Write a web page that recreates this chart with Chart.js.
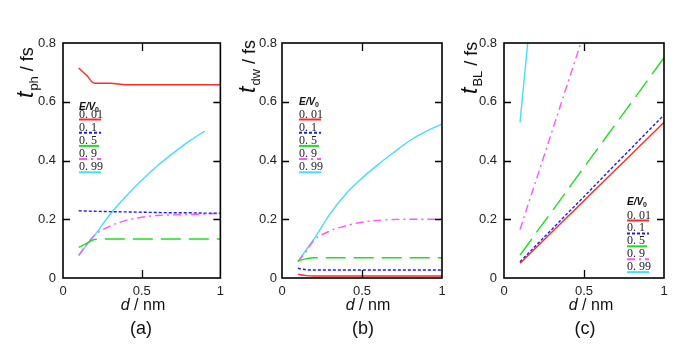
<!DOCTYPE html>
<html><head><meta charset="utf-8">
<script src="https://cdn.jsdelivr.net/npm/chart.js@4"></script>
<style>
html,body{margin:0;padding:0;background:#fff;}
#wrap{position:relative;width:692px;height:346px;overflow:hidden;}
canvas{position:absolute;top:0;}
</style></head><body>
<div id="wrap">
<canvas id="ca" width="230" height="346" style="left:0px"></canvas>
<canvas id="cb" width="230" height="346" style="left:230px"></canvas>
<canvas id="cc" width="232" height="346" style="left:460px"></canvas>
</div>
<script>
// ---- data ----
const dNm = [0.1, 0.15, 0.2, 0.3, 0.4, 0.5, 0.6, 0.7, 0.8, 0.9, 1.0];
const ratioLabels = ['0. 01', '0. 1', '0. 5', '0. 9', '0. 99'];
const yTicks = [0, 0.2, 0.4, 0.6, 0.8];
const xTicks = [0, 0.5, 1];

// (a) t_ph
const tphE001 = [0.715, 0.69, 0.663, 0.663, 0.658, 0.658, 0.658, 0.658, 0.658, 0.658, 0.658];
const tphE01  = [0.229, 0.228, 0.227, 0.226, 0.225, 0.224, 0.223, 0.222, 0.222, 0.221, 0.221];
const tphE05  = [0.104, 0.118, 0.131, 0.133, 0.133, 0.133, 0.133, 0.133, 0.133, 0.133, 0.133];
const tphE09  = [0.077, 0.115, 0.145, 0.177, 0.196, 0.207, 0.213, 0.215, 0.216, 0.218, 0.22];
const tphE099 = [0.076, 0.112, 0.145, 0.217, 0.278, 0.333, 0.382, 0.425, 0.465, 0.5, null];

// (b) t_dw
const tdwE001 = [0.013, 0.008, 0.007, 0.007, 0.007, 0.007, 0.007, 0.007, 0.007, 0.007, 0.007];
const tdwE01  = [0.033, 0.028, 0.027, 0.027, 0.027, 0.027, 0.027, 0.027, 0.027, 0.027, 0.027];
const tdwE05  = [0.059, 0.065, 0.069, 0.069, 0.069, 0.069, 0.069, 0.069, 0.069, 0.069, 0.069];
const tdwE09  = [0.056, 0.09, 0.128, 0.16, 0.178, 0.19, 0.196, 0.199, 0.2, 0.2, 0.2];
const tdwE099 = [0.056, 0.095, 0.133, 0.218, 0.287, 0.34, 0.386, 0.428, 0.468, 0.499, 0.524];

// (c) t_BL
const tblE001 = [0.05, 0.077, 0.103, 0.157, 0.21, 0.263, 0.317, 0.37, 0.423, 0.477, 0.53];
const tblE01  = [0.055, 0.083, 0.111, 0.166, 0.222, 0.277, 0.333, 0.389, 0.444, 0.5, 0.555];
const tblE05  = [0.078, 0.115, 0.153, 0.227, 0.302, 0.377, 0.451, 0.526, 0.6, 0.675, 0.75];
const tblE09  = [0.165, 0.249, 0.332, 0.499, 0.666, 0.833, 1.0, null, null, null, null];
const tblE099 = [0.53, 0.81, 1.08, null, null, null, null, null, null, null, null];

// ---- styles ----
const seriesStyle = [
  {color: '#ff2a2a', dash: []},
  {color: '#1a1aff', dash: [3, 2]},
  {color: '#22dd22', dash: [20, 8]},
  {color: '#ff55ff', dash: [8, 4, 2, 4]},
  {color: '#44ddff', dash: []}
];

function pts(arr) {
  const out = [];
  dNm.forEach((x, i) => { if (arr[i] !== null) out.push({x: x, y: arr[i]}); });
  return out;
}

function overlay(opt) {
  return {
    id: 'overlay',
    afterDraw(chart) {
      const ctx = chart.ctx;
      const a = chart.chartArea;
      const xs = chart.scales.x, ys = chart.scales.y;
      ctx.save();
      // frame
      ctx.strokeStyle = '#000';
      ctx.lineWidth = 1.6;
      ctx.setLineDash([]);
      ctx.strokeRect(a.left, a.top, a.right - a.left, a.bottom - a.top);
      // inward ticks
      ctx.lineWidth = 1.3;
      ctx.beginPath();
      [0.2, 0.4, 0.6].forEach(v => {
        const py = Math.round(ys.getPixelForValue(v)) + 0.5;
        ctx.moveTo(a.left, py); ctx.lineTo(a.left + 7, py);
        ctx.moveTo(a.right, py); ctx.lineTo(a.right - 7, py);
      });
      const px = Math.round(xs.getPixelForValue(0.5)) + 0.5;
      ctx.moveTo(px, a.top); ctx.lineTo(px, a.top + 8);
      ctx.moveTo(px, a.bottom); ctx.lineTo(px, a.bottom - 8);
      ctx.stroke();

      ctx.fillStyle = '#111';
      // y title (rotated)
      ctx.save();
      ctx.translate(opt.yt[0], opt.yt[1]);
      ctx.rotate(-Math.PI / 2);
      ctx.textBaseline = 'alphabetic';
      ctx.textAlign = 'left';
      let cx = 0;
      ctx.font = 'italic 23px "Liberation Sans", Arial, sans-serif';
      ctx.fillText('t', cx, 0); cx += ctx.measureText('t').width + 1;
      ctx.font = '13px "Liberation Sans", Arial, sans-serif';
      ctx.fillText(opt.sub, cx, 5); cx += ctx.measureText(opt.sub).width;
      ctx.font = '18px "Liberation Sans", Arial, sans-serif';
      ctx.fillText(' / fs', cx, 0);
      ctx.restore();

      // x title
      ctx.textBaseline = 'alphabetic';
      ctx.font = 'italic 16px "Liberation Sans", Arial, sans-serif';
      const w1 = ctx.measureText('d').width;
      ctx.font = '16px "Liberation Sans", Arial, sans-serif';
      const w2 = ctx.measureText(' / nm').width;
      let sx = opt.xt[0] - (w1 + w2) / 2;
      ctx.textAlign = 'left';
      ctx.font = 'italic 16px "Liberation Sans", Arial, sans-serif';
      ctx.fillText('d', sx, opt.xt[1]);
      ctx.font = '16px "Liberation Sans", Arial, sans-serif';
      ctx.fillText(' / nm', sx + w1, opt.xt[1]);

      // panel label
      ctx.textAlign = 'center';
      ctx.font = '18px "Liberation Sans", Arial, sans-serif';
      ctx.fillText(opt.panel, opt.pl[0], opt.pl[1]);

      // legend
      const lx = opt.lg[0];
      ctx.textAlign = 'left';
      ctx.font = 'italic bold 10px "Liberation Sans", Arial, sans-serif';
      ctx.fillText('E/V', lx, opt.lg[1]);
      const wev = ctx.measureText('E/V').width;
      ctx.font = 'bold 7px "Liberation Sans", Arial, sans-serif';
      ctx.fillText('0', lx + wev, opt.lg[1] + 2);
      ratioLabels.forEach((lab, i) => {
        const ly = opt.lg[2] + i * opt.lg[3];
        ctx.fillStyle = '#222';
        ctx.font = '12px "Liberation Serif", "Times New Roman", serif';
        ctx.fillText(lab, lx, ly - 1.5);
        ctx.strokeStyle = seriesStyle[i].color;
        ctx.lineWidth = 2;
        ctx.setLineDash(seriesStyle[i].dash);
        ctx.beginPath();
        ctx.moveTo(lx, ly + 0.5); ctx.lineTo(lx + 22, ly + 0.5);
        ctx.stroke();
      });
      ctx.restore();
    }
  };
}

function makeChart(id, arrays, rightPad, yAxisW, yPad, opt) {
  const datasets = arrays.map((arr, i) => ({
    label: ratioLabels[i],
    data: pts(arr),
    borderColor: seriesStyle[i].color,
    borderDash: seriesStyle[i].dash,
    borderWidth: 1.4,
    pointRadius: 0,
    fill: false,
    cubicInterpolationMode: 'monotone'
  }));
  const tickFont = {family: '"Liberation Sans", Arial, sans-serif', size: 13};
  return new Chart(document.getElementById(id), {
    type: 'line',
    data: {datasets},
    options: {
      responsive: false,
      animation: false,
      events: [],
      layout: {padding: {left: 0, right: rightPad, top: 43, bottom: 38}},
      plugins: {legend: {display: false}, tooltip: {enabled: false}},
      scales: {
        x: {
          type: 'linear', min: 0, max: 1,
          grid: {display: false, drawTicks: false},
          border: {display: false},
          afterBuildTicks: s => { s.ticks = xTicks.map(v => ({value: v})); },
          afterFit: s => { s.height = 30; },
          ticks: {font: tickFont, color: '#222', padding: 6, maxRotation: 0,
                  callback: v => String(v)}
        },
        y: {
          type: 'linear', min: 0, max: 0.8,
          grid: {display: false, drawTicks: false},
          border: {display: false},
          afterBuildTicks: s => { s.ticks = yTicks.map(v => ({value: v})); },
          afterFit: s => { s.width = yAxisW; },
          ticks: {font: tickFont, color: '#222', padding: yPad,
                  callback: v => String(v)}
        }
      }
    },
    plugins: [overlay(opt)]
  });
}

makeChart('ca', [tphE001, tphE01, tphE05, tphE09, tphE099], 8, 63, 7,
  {sub: 'ph', yt: [33, 98], xt: [143, 310], panel: '(a)', pl: [141, 334],
   lg: [79, 110, 119, 13.2]});
makeChart('cb', [tdwE001, tdwE01, tdwE05, tdwE09, tdwE099], 18, 52, 5,
  {sub: 'dw', yt: [25, 93], xt: [138, 310], panel: '(b)', pl: [133, 334],
   lg: [69, 105, 119, 13.2]});
makeChart('cc', [tblE001, tblE01, tblE05, tblE09, tblE099], 28, 44, 7,
  {sub: 'BL', yt: [17, 94], xt: [131, 310], panel: '(c)', pl: [125, 334],
   lg: [167, 205, 220, 12.9]});
</script>
</body></html>
